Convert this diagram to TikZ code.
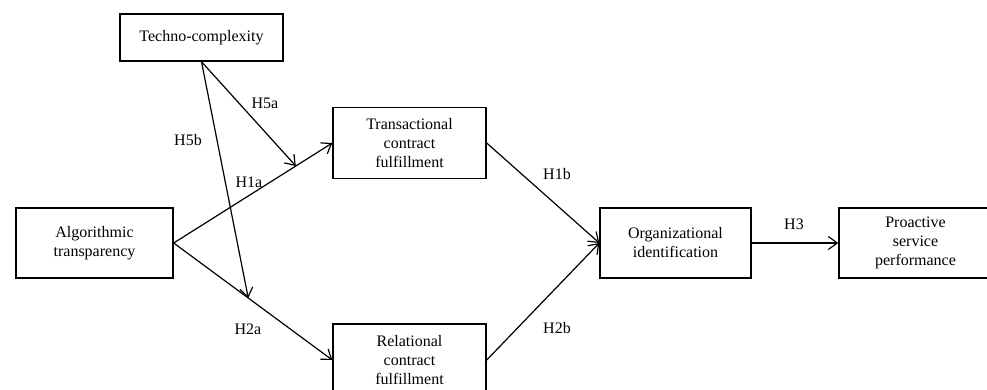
\documentclass[tikz,border=0pt]{standalone}
\usepackage{fontspec}
\setmainfont{Liberation Serif}
\usetikzlibrary{arrows.meta,calc}
\tikzset{
  box/.style={draw, line width=1.4pt, align=center, inner sep=0pt,
    font=\fontsize{16}{19}\selectfont},
  lbl/.style={font=\fontsize{16}{19}\selectfont},
  link/.style={line width=1.2pt, -{Straight Barb[length=9pt,width=13pt,line width=1.2pt]}}
}
\begin{document}
\begin{tikzpicture}[x=1pt,y=-1pt]
\useasboundingbox (0,0) rectangle (987,389);
\node [box, minimum width=163pt, minimum height=47pt] (n0) at (201.5,37.5) {Techno-complexity};
\node [box, minimum width=157pt, minimum height=70pt] (n1) at (94.5,243) {Algorithmic\\transparency};
\node [box, minimum width=153pt, minimum height=71pt] (n2) at (409.5,143) {Transactional\\contract\\fulfillment};
\node [box, minimum width=153pt, minimum height=72pt] (n3) at (409.5,360) {Relational\\contract\\fulfillment};
\node [box, minimum width=151pt, minimum height=70pt] (n4) at (675.5,243) {Organizational\\identification};
\node [box, minimum width=153pt, minimum height=70pt] (n5) at (915.5,243) {Proactive\\service\\performance};

\coordinate (c1) at ($(n1.east)!0.77!(n2.west)$);
\coordinate (c2) at ($(n1.east)!0.47!(n3.west)$);

\draw[link] (n1.east) -- (n2.west);
\draw[link] (n1.east) -- (n3.west);
\draw[link] (n0.south) -- (c1);
\draw[link] (n0.south) -- (c2);
\draw[link] (n2.east) -- (n4.west);
\draw[link] (n3.east) -- (n4.west);
\draw[link] (n4.east) -- (n5.west);

\node [lbl] (h5a) at (265,103) {H5a};
\node [lbl] (h5b) at (188,140) {H5b};
\node [lbl] (h1a) at (249,182) {H1a};
\node [lbl] (h2a) at (248,329) {H2a};
\node [lbl] (h1b) at (557,174) {H1b};
\node [lbl] (h2b) at (557,328) {H2b};
\node [lbl] (h3)  at (794,224) {H3};
\end{tikzpicture}
\end{document}
